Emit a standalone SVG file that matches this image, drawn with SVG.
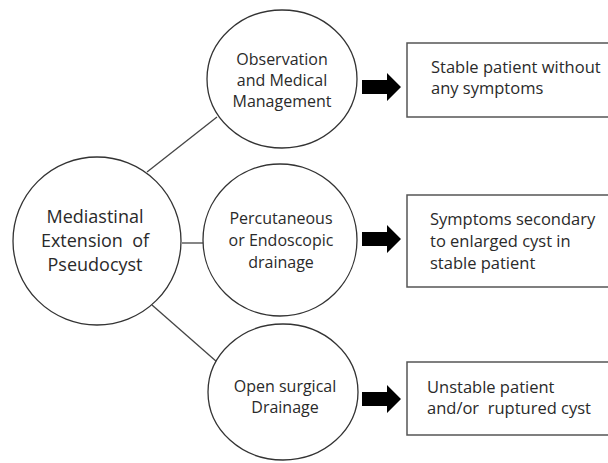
<svg xmlns="http://www.w3.org/2000/svg" width="608" height="463" viewBox="0 0 608 463">
<style>
.node{fill:#fff;stroke:#333;stroke-width:1.3}
.box{fill:#fff;stroke:#555;stroke-width:1.5}
.conn{stroke:#444;stroke-width:1.3;fill:none}
.arrow{fill:#000}
text{font-family:"Open Sans","Liberation Sans",sans-serif;fill:#2a2a2a;white-space:pre}
.c{text-anchor:middle;font-size:16px}
.m{text-anchor:middle;font-size:18px}
.b{font-size:16.5px}
</style>
<rect width="608" height="463" fill="#fff"/>
<g id="connectors">
<line class="conn" x1="147" y1="172" x2="217" y2="117"/>
<line class="conn" x1="182" y1="243" x2="203" y2="243"/>
<line class="conn" x1="152" y1="305" x2="217" y2="362"/>
<path class="arrow" d="M362,80 H387 V73 L401,87 L387,101 V94 H362 Z"/>
<path class="arrow" d="M362,232 H387 V225 L401,239 L387,253 V246 H362 Z"/>
<path class="arrow" d="M362,392 H387 V385 L401,399 L387,413 V406 H362 Z"/>
</g>
<g id="main">
<ellipse class="node" cx="97" cy="241" rx="84" ry="84"/>
<text class="m" x="95" y="223">Mediastinal</text>
<text class="m" x="95" y="247" xml:space="preserve">Extension  of</text>
<text class="m" x="95" y="271">Pseudocyst</text>
</g>
<g id="observation">
<ellipse class="node" cx="282" cy="79" rx="75" ry="69"/>
<text class="c" x="282" y="65">Observation</text>
<text class="c" x="282" y="86">and Medical</text>
<text class="c" x="282" y="107">Management</text>
</g>
<g id="percutaneous">
<ellipse class="node" cx="280" cy="240" rx="77" ry="76"/>
<text class="c" x="281" y="224">Percutaneous</text>
<text class="c" x="281" y="246">or Endoscopic</text>
<text class="c" x="281" y="268">drainage</text>
</g>
<g id="surgical">
<ellipse class="node" cx="283" cy="392" rx="75" ry="68"/>
<text class="c" x="285" y="392">Open surgical</text>
<text class="c" x="285" y="413">Drainage</text>
</g>
<g id="box-stable">
<rect class="box" x="407" y="43" width="210" height="74"/>
<text class="b" x="431" y="73">Stable patient without</text>
<text class="b" x="431" y="94">any symptoms</text>
</g>
<g id="box-symptoms">
<rect class="box" x="407" y="195" width="210" height="92"/>
<text class="b" x="430" y="225">Symptoms secondary</text>
<text class="b" x="430" y="247">to enlarged cyst in</text>
<text class="b" x="430" y="269">stable patient</text>
</g>
<g id="box-unstable">
<rect class="box" x="407" y="362" width="210" height="73"/>
<text class="b" x="427" y="393">Unstable patient</text>
<text class="b" x="427" y="414" xml:space="preserve">and/or  ruptured cyst</text>
</g>
</svg>
